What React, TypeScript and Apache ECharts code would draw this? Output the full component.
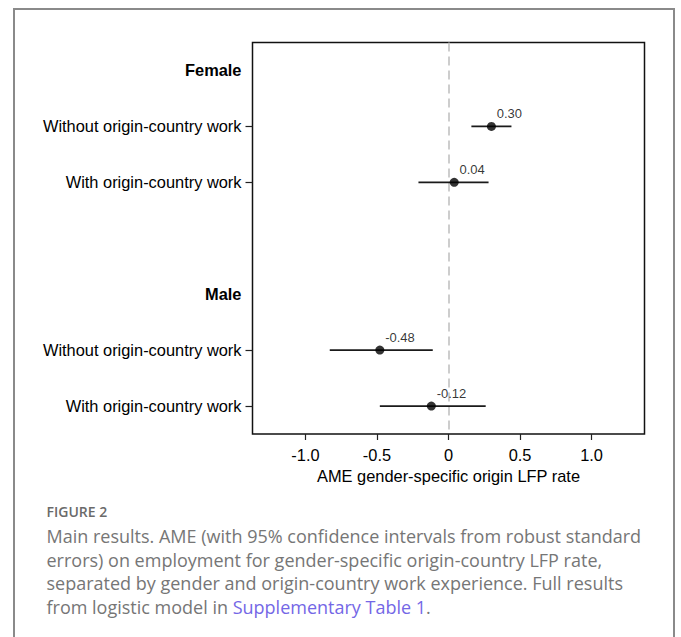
import React, { useEffect, useRef } from 'react';
import * as echarts from 'echarts';

// ---- data ----
const rowKeys = ['female', 'fWithout', 'fWith', 'gap', 'male', 'mWithout', 'mWith'];
const rowLabels = [
  'Female',
  'Without origin-country work',
  'With origin-country work',
  '',
  'Male',
  'Without origin-country work',
  'With origin-country work',
];
const headerRows = ['female', 'male'];
const estimateRows = ['fWithout', 'fWith', 'mWithout', 'mWith'];
const estimates = [0.3, 0.04, -0.48, -0.12];
const ciLower = [0.16, -0.21, -0.83, -0.48];
const ciUpper = [0.44, 0.28, -0.11, 0.26];
const xTicks = [-1.0, -0.5, 0, 0.5, 1.0];
const xTickLabels = ['-1.0', '-0.5', '0', '0.5', '1.0'];
const xAxisName = 'AME gender-specific origin LFP rate';

const figureLabel = 'FIGURE 2';
const captionLines = [
  'Main results. AME (with 95% confidence intervals from robust standard',
  'errors) on employment for gender-specific origin-country LFP rate,',
  'separated by gender and origin-country work experience. Full results',
];
const captionLastPrefix = 'from logistic model in ';
const captionLink = 'Supplementary Table 1';
const captionLastSuffix = '.';

const AXIS_FONT = "'Liberation Sans', Arial, Helvetica, sans-serif";
const CAPTION_FONT = "'Open Sans', 'Noto Sans', sans-serif";
const CAPTION_COLOR = '#767676';
const LINE_START = 536;
const LINE_STEP = 23.7;

export default function App() {
  const ref = useRef<HTMLDivElement>(null);

  useEffect(() => {
    if (!ref.current) return;
    const chart = echarts.init(ref.current, undefined, { renderer: 'svg' });

    const captionGraphics: any[] = captionLines.map((line, i) => ({
      type: 'text',
      x: 46.5,
      y: LINE_START + i * LINE_STEP,
      silent: true,
      style: {
        text: line,
        fill: CAPTION_COLOR,
        fontSize: 18,
        fontFamily: CAPTION_FONT,
        verticalAlign: 'middle',
        align: 'left',
      },
    }));
    captionGraphics.push({
      type: 'text',
      x: 46.5,
      y: LINE_START + captionLines.length * LINE_STEP,
      silent: true,
      style: {
        text: `{t|${captionLastPrefix}}{l|${captionLink}}{t|${captionLastSuffix}}`,
        verticalAlign: 'middle',
        align: 'left',
        rich: {
          t: { fill: CAPTION_COLOR, fontSize: 18, fontFamily: CAPTION_FONT },
          l: { fill: '#7467e6', fontSize: 18, fontFamily: CAPTION_FONT },
        },
      },
    });

    const option: any = {
      animation: false,
      backgroundColor: '#ffffff',
      grid: {
        left: 252.5,
        right: 36.5,
        top: 42.5,
        bottom: 203,
        show: true,
        borderColor: '#111111',
        borderWidth: 1.5,
        backgroundColor: 'transparent',
      },
      xAxis: {
        type: 'value',
        min: -1.37,
        max: 1.37,
        axisLine: { show: false, onZero: false },
        splitLine: { show: false },
        axisTick: {
          show: true,
          customValues: xTicks,
          length: 6,
          lineStyle: { color: '#222222', width: 1.2 },
        },
        axisLabel: {
          customValues: xTicks,
          formatter: (v: number) => {
            const idx = xTicks.findIndex((t) => Math.abs(t - v) < 1e-9);
            return idx >= 0 ? xTickLabels[idx] : '';
          },
          fontSize: 16.4,
          color: '#000000',
          fontFamily: AXIS_FONT,
          margin: 13,
        },
        name: xAxisName,
        nameLocation: 'middle',
        nameGap: 31,
        nameTextStyle: { fontSize: 16.4, color: '#000000', fontFamily: AXIS_FONT },
      },
      yAxis: {
        type: 'category',
        data: rowKeys,
        inverse: true,
        axisLine: { show: false, onZero: false },
        splitLine: { show: false },
        axisTick: {
          show: true,
          alignWithLabel: true,
          interval: (i: number) => estimateRows.includes(rowKeys[i]),
          length: 7,
          lineStyle: { color: '#222222', width: 1.2 },
        },
        axisLabel: {
          interval: 0,
          margin: 11,
          fontSize: 16.4,
          color: '#000000',
          fontFamily: AXIS_FONT,
          formatter: (v: string, i: number) => {
            const idx = rowKeys.indexOf(v);
            const label = rowLabels[idx >= 0 ? idx : i];
            return headerRows.includes(v) ? `{b|${label}}` : label;
          },
          rich: {
            b: { fontWeight: 'bold', fontSize: 16.4, color: '#000000', fontFamily: AXIS_FONT },
          },
        },
      },
      series: [
        {
          type: 'custom',
          z: 2,
          silent: true,
          encode: { x: [0, 1], y: 2 },
          data: estimateRows.map((k, i) => [ciLower[i], ciUpper[i], rowKeys.indexOf(k)]),
          renderItem: (params: any, api: any) => {
            const yi = api.value(2);
            const p1 = api.coord([api.value(0), yi]);
            const p2 = api.coord([api.value(1), yi]);
            return {
              type: 'line',
              shape: { x1: p1[0], y1: p1[1], x2: p2[0], y2: p2[1] },
              style: { stroke: '#1a1a1a', lineWidth: 1.8 },
            };
          },
        },
        {
          type: 'scatter',
          z: 3,
          silent: true,
          symbol: 'circle',
          symbolSize: 9,
          itemStyle: { color: '#000000' },
          data: estimateRows.map((k, i) => [estimates[i], k]),
          label: {
            show: true,
            position: [9.8, -8],
            align: 'left',
            verticalAlign: 'middle',
            fontSize: 13,
            color: '#000000',
            fontFamily: AXIS_FONT,
            formatter: (p: any) => (p.value[0] as number).toFixed(2),
          },
          markLine: {
            silent: true,
            symbol: ['none', 'none'],
            label: { show: false },
            lineStyle: { type: [9, 5], color: '#bdbdbd', width: 1.5 },
            data: [{ xAxis: 0 }],
            z: 1,
          },
        },
      ],
      graphic: [
        {
          type: 'rect',
          shape: { x: 14, y: 9, width: 660, height: 700 },
          style: { fill: 'none', stroke: '#8a8a8a', lineWidth: 2 },
          silent: true,
          z: -1,
        },
        {
          type: 'text',
          x: 46.5,
          y: 511.5,
          silent: true,
          style: {
            text: figureLabel,
            fill: '#6a6a6a',
            fontSize: 14,
            fontWeight: 600,
            fontFamily: CAPTION_FONT,
            verticalAlign: 'middle',
            align: 'left',
          },
        },
        ...captionGraphics,
      ],
    };

    chart.setOption(option);
    return () => chart.dispose();
  }, []);

  return (
    <div
      ref={ref}
      style={{ position: 'fixed', left: 0, top: 0, width: 681, height: 637, background: '#fff' }}
    />
  );
}
